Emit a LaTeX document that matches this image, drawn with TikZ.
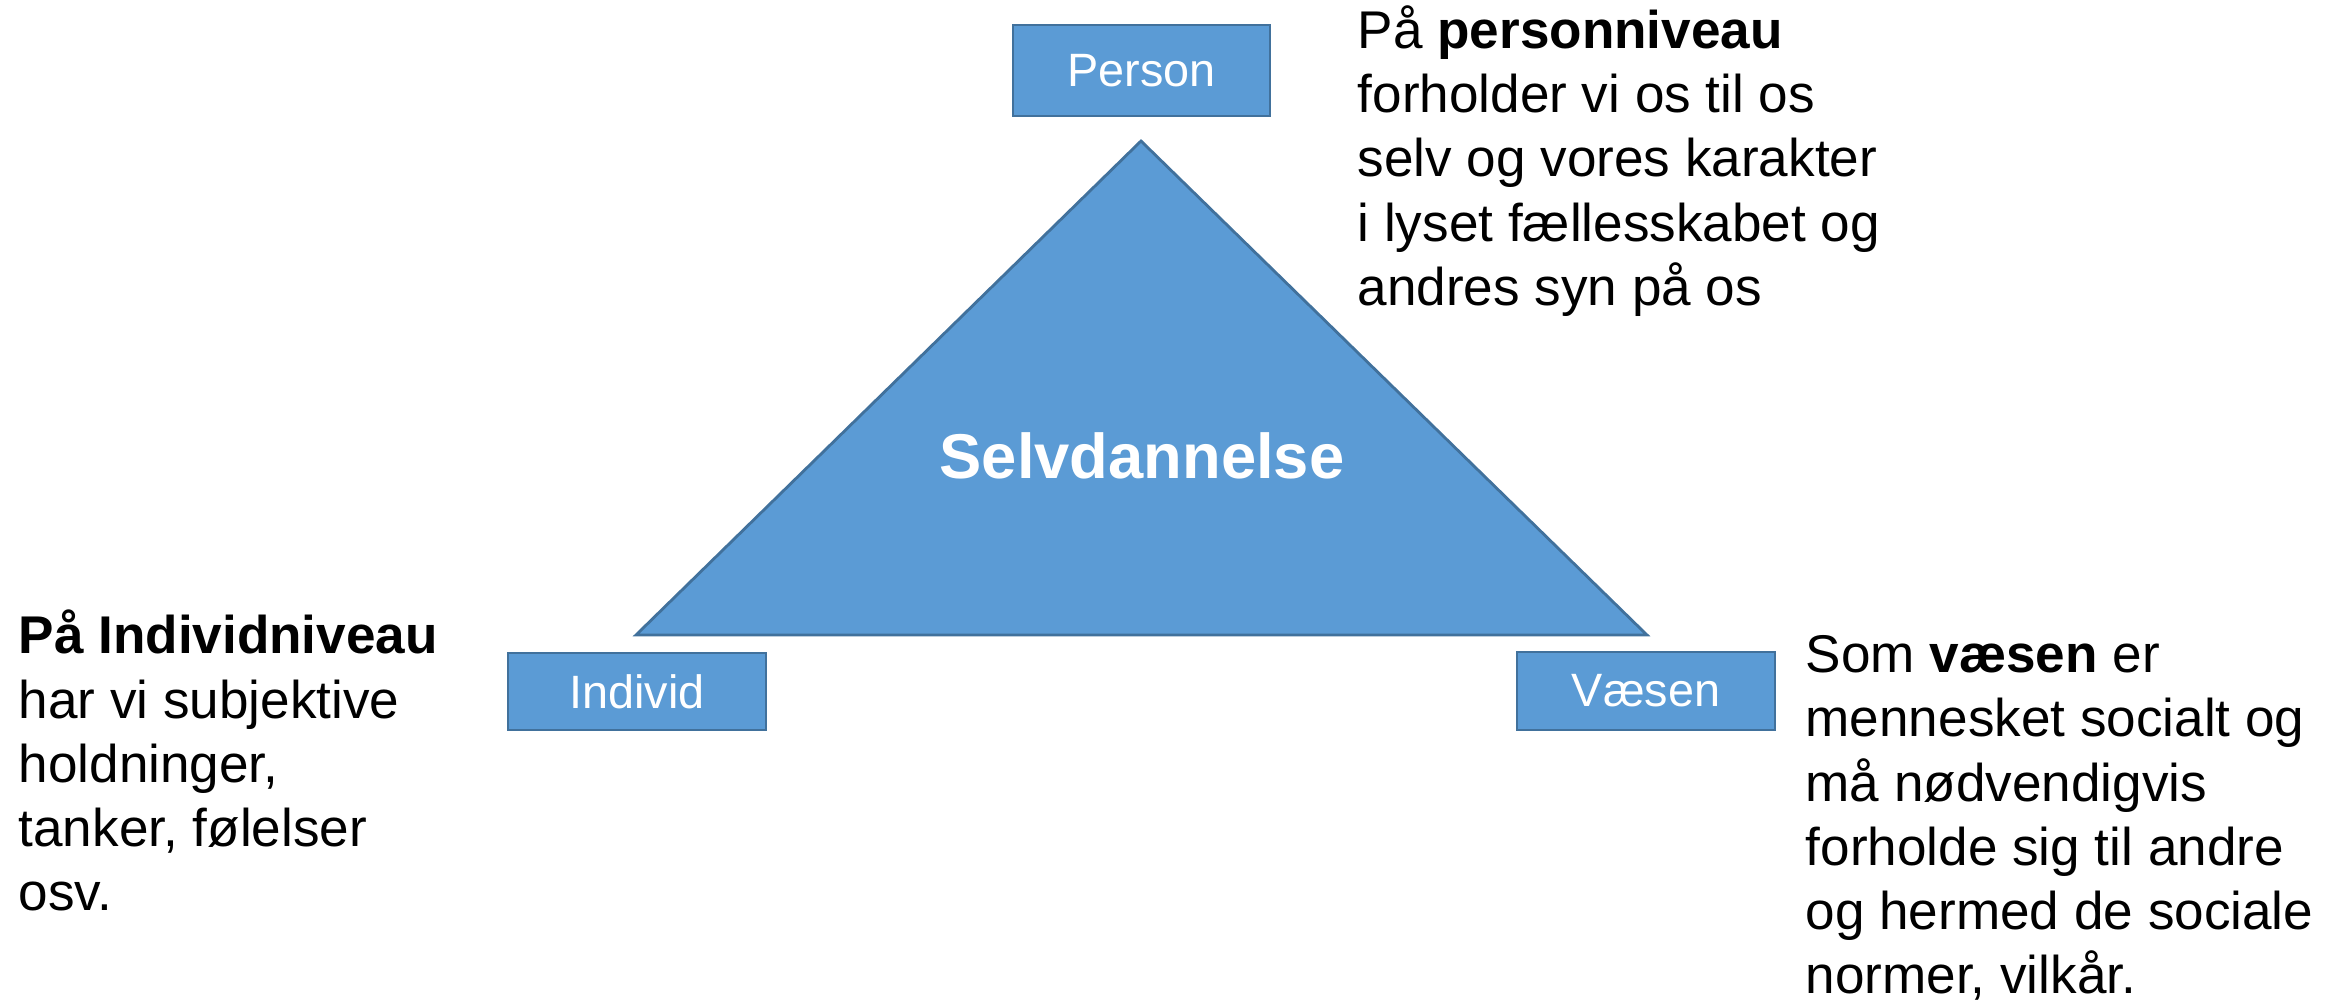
\documentclass[tikz,border=0pt]{standalone}
\usepackage{fontspec}
\setmainfont{Liberation Sans}
\definecolor{boxfill}{HTML}{5B9BD5}
\definecolor{boxline}{HTML}{41719C}
\begin{document}
\begin{tikzpicture}[x=0.01cm,y=-0.01cm,
  bluebox/.style={draw=boxline,fill=boxfill,line width=0.8pt,inner sep=0pt},
  boxlabel/.style={text=white,font=\fontsize{13.3}{16}\selectfont,inner sep=0pt},
  bodytext/.style={align=left,inner sep=0pt,anchor=base west,font=\fontsize{15.1}{18.2}\selectfont}]
\useasboundingbox (0,0) rectangle (2338,1000);
% triangle
\coordinate (apex) at (1141,141);
\coordinate (bl) at (636,635);
\coordinate (br) at (1647,635);
\draw[draw=boxline,fill=boxfill,line width=0.8pt] (apex) -- (br) -- (bl) -- cycle;
\node[text=white,font=\fontsize{18}{20}\selectfont\bfseries,anchor=base,inner sep=0pt] (selv) at (1142,478) {Selvdannelse};
% boxes
\draw[bluebox] (1013,25) rectangle (1270,116);
\node[boxlabel] (person) at (1141.5,70.5) {Person};
\draw[bluebox] (508,653) rectangle (766,730);
\node[boxlabel] (individ) at (637,691.5) {Individ};
\draw[bluebox] (1517,652) rectangle (1775,730);
\node[boxlabel] (vaesen) at (1646,691) {Væsen};
% texts (anchor base = baseline of the last line)
\node[bodytext] (tperson) at (1357,305) {På \textbf{personniveau}\\forholder vi os til os\\selv og vores karakter\\i lyset fællesskabet og\\andres syn på os};
\node[bodytext] (tindivid) at (18,910) {\textbf{På Individniveau}\\har vi subjektive\\holdninger,\\tanker, følelser\\osv.};
\node[bodytext] (tvaesen) at (1805,993) {Som \textbf{væsen} er\\mennesket socialt og\\må nødvendigvis\\forholde sig til andre\\og hermed de sociale\\normer, vilkår.};
\end{tikzpicture}
\end{document}
